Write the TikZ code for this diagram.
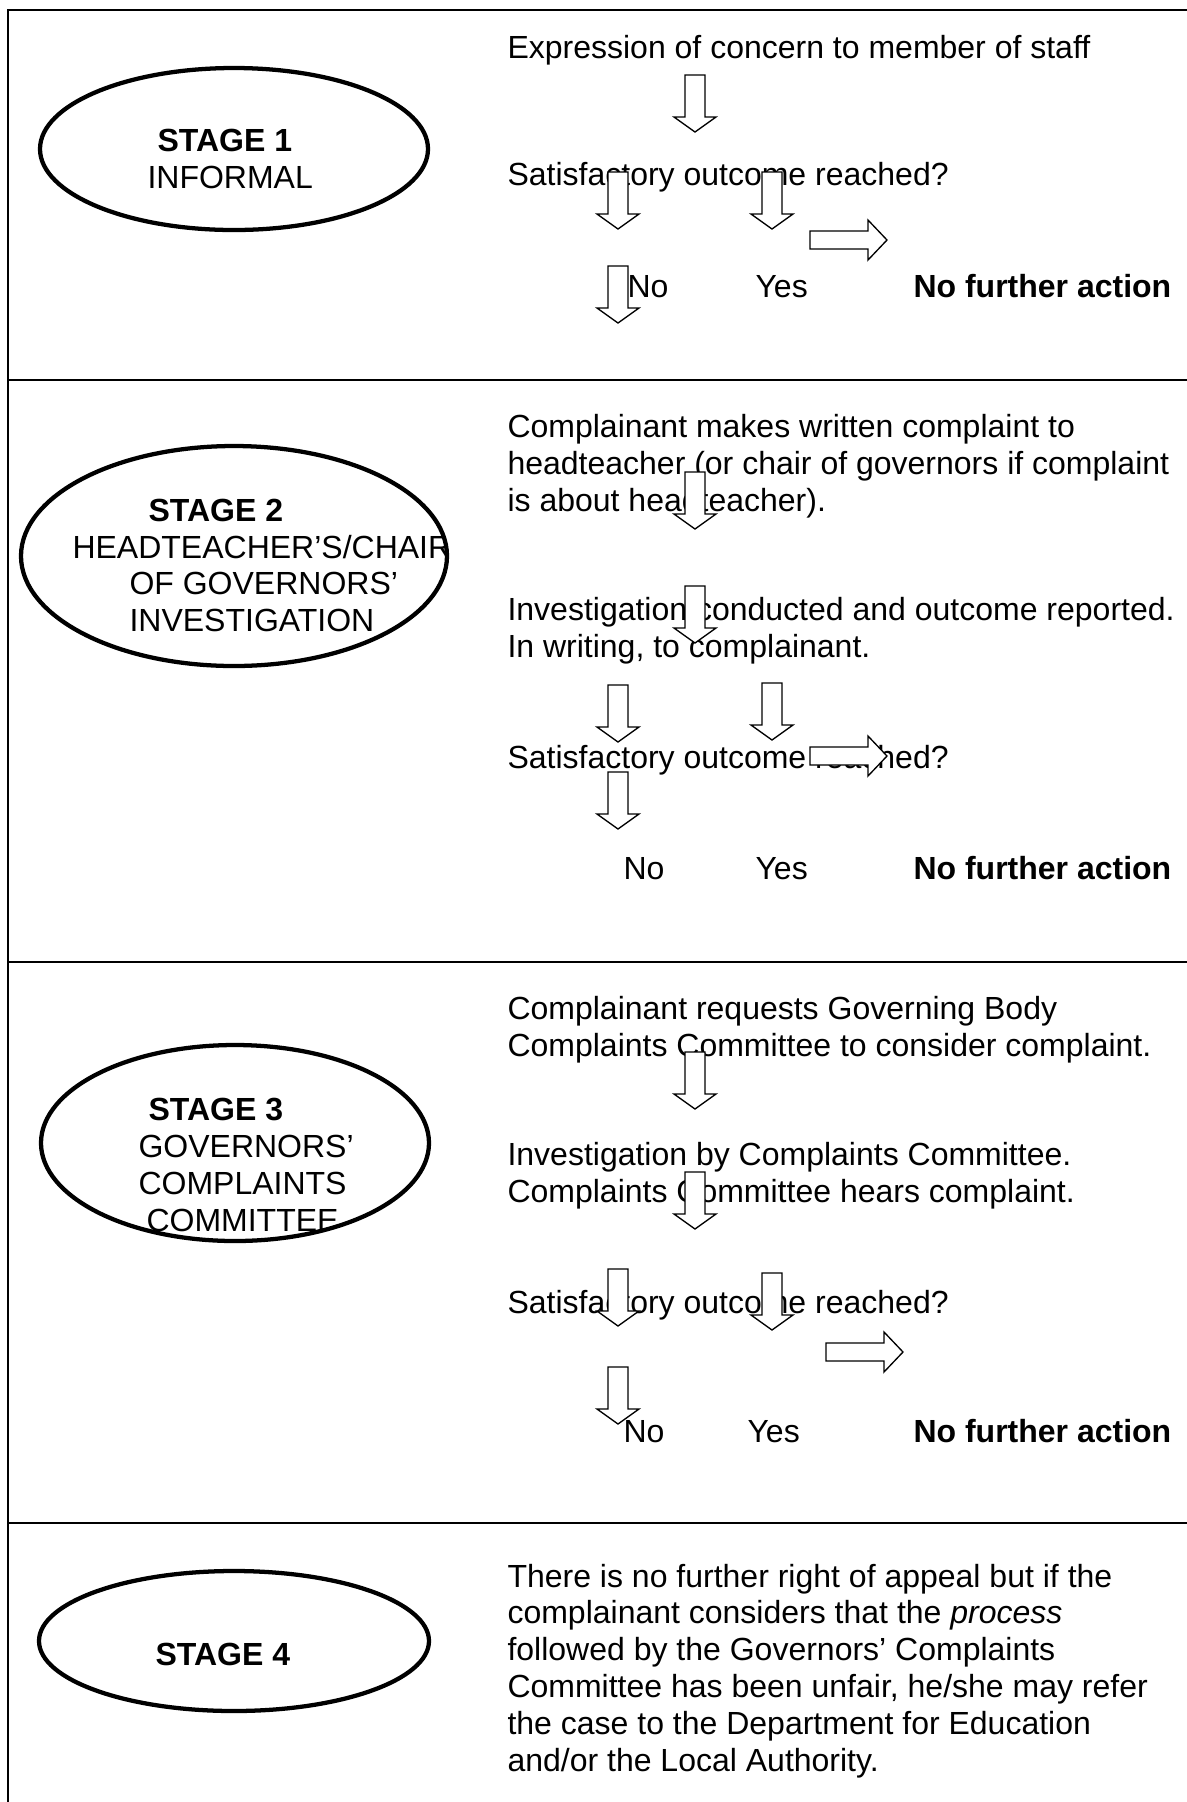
\documentclass[tikz,border=0pt]{standalone}
\usepackage{fontspec}
\setmainfont{Liberation Sans}

\begin{document}
\begin{tikzpicture}[
            x=0.375pt, y=-0.375pt,
            every node/.append style={black, inner sep=0pt, anchor=base west},
            flowtext/.style={font=\fontsize{12}{13.8}\selectfont, align=left},
            frame/.style={line width=0.8pt},
            stagering/.style={line width=1.6pt},
            downblock/.pic={
                \draw[line width=0.5pt, fill=white] (-10,0) -- (10,0) -- (10,42)
                    -- (21,42) -- (0,57) -- (-21,42) -- (-10,42) -- cycle;
            },
            rightblock/.pic={
                \draw[line width=0.5pt, fill=white] (0,-9) -- (58,-9) -- (58,-20)
                    -- (77,0) -- (58,20) -- (58,9) -- (0,9) -- cycle;
            }
        ]
            \useasboundingbox (0,0) rectangle (1187,1802);
            \draw[frame] (8,1802) -- (8,10) -- (1187,10);
            \foreach \y in {380,962,1523}
                \draw[frame] (8,\y) -- (1187,\y);

            \coordinate (st1) at (234,149);
            \coordinate (st2) at (234,556);
            \coordinate (st3) at (235,1143);
            \coordinate (st4) at (234,1641);

            \node[flowtext] (lab1a) at (157,151) {\textbf{STAGE 1}};
            \node[flowtext] (lab1b) at (147,188) {INFORMAL};
            \draw[stagering] (st1) ellipse [x radius=194, y radius=81];

            \begin{scope}
                \clip (st2) ellipse [x radius=213, y radius=110];
                \node[flowtext] (lab2a) at (148,521) {\textbf{STAGE 2}};
                \node[flowtext] (lab2b) at (72,558) {HEADTEACHER’S/CHAIR};
                \node[flowtext] (lab2c) at (129,594) {OF GOVERNORS’};
                \node[flowtext] (lab2d) at (129,631) {INVESTIGATION};
            \end{scope}
            \draw[stagering] (st2) ellipse [x radius=213, y radius=110];

            \begin{scope}
                \clip (st3) ellipse [x radius=194, y radius=98];
                \node[flowtext] (lab3a) at (148,1120) {\textbf{STAGE 3}};
                \node[flowtext] (lab3b) at (138,1157) {GOVERNORS’};
                \node[flowtext] (lab3c) at (138,1194) {COMPLAINTS};
                \node[flowtext] (lab3d) at (146,1231) {COMMITTEE};
            \end{scope}
            \draw[stagering] (st3) ellipse [x radius=194, y radius=98];

            \node[flowtext] (lab4a) at (155,1665) {\textbf{STAGE 4}};
            \draw[stagering] (st4) ellipse [x radius=195, y radius=70];

            \node[flowtext] (concern) at (507,58) {Expression of concern to member of staff};
            \node[flowtext] (outcome1) at (507,185) {Satisfactory outcome reached?};
            \node[flowtext] (no1) at (627,297) {No};
            \node[flowtext] (yes1) at (755,297) {Yes};
            \node[flowtext] (nfa1) at (913,297) {\textbf{No further action}};

            \node[flowtext] (written) at (507,511) {Complainant makes written complaint to\\
                headteacher (or chair of governors if complaint\\is about headteacher).};
            \node[flowtext] (report) at (507,657) {Investigation conducted and outcome reported.\\
                In writing, to complainant.};
            \node[flowtext] (outcome2) at (507,768) {Satisfactory outcome reached?};
            \node[flowtext] (no2) at (623,879) {No};
            \node[flowtext] (yes2) at (755,879) {Yes};
            \node[flowtext] (nfa2) at (913,879) {\textbf{No further action}};

            \node[flowtext] (request) at (507,1056) {Complainant requests Governing Body\\
                Complaints Committee to consider complaint.};
            \node[flowtext] (hearing) at (507,1202) {Investigation by Complaints Committee.\\
                Complaints Committee hears complaint.};
            \node[flowtext] (outcome3) at (507,1313) {Satisfactory outcome reached?};
            \node[flowtext] (no3) at (623,1442) {No};
            \node[flowtext] (yes3) at (747,1442) {Yes};
            \node[flowtext] (nfa3) at (913,1442) {\textbf{No further action}};

            \node[flowtext] (appeal) at (507,1771) {There is no further right of appeal but if the\\
                complainant considers that the \textit{process}\\
                followed by the Governors’ Complaints\\
                Committee has been unfair, he/she may refer\\
                the case to the Department for Education\\
                and/or the Local Authority.};

            \pic at (695,75) {downblock};
            \pic at (618,172) {downblock};
            \pic at (772,172) {downblock};
            \pic at (618,266) {downblock};
            \pic at (810,240) {rightblock};

            \pic at (695,472) {downblock};
            \pic at (695,586) {downblock};
            \pic at (618,685) {downblock};
            \pic at (772,683) {downblock};
            \pic at (618,772) {downblock};
            \pic at (810,756) {rightblock};

            \pic at (695,1052) {downblock};
            \pic at (695,1172) {downblock};
            \pic at (618,1269) {downblock};
            \pic at (772,1273) {downblock};
            \pic at (618,1367) {downblock};
            \pic at (826,1352) {rightblock};
        \end{tikzpicture}
\end{document}
